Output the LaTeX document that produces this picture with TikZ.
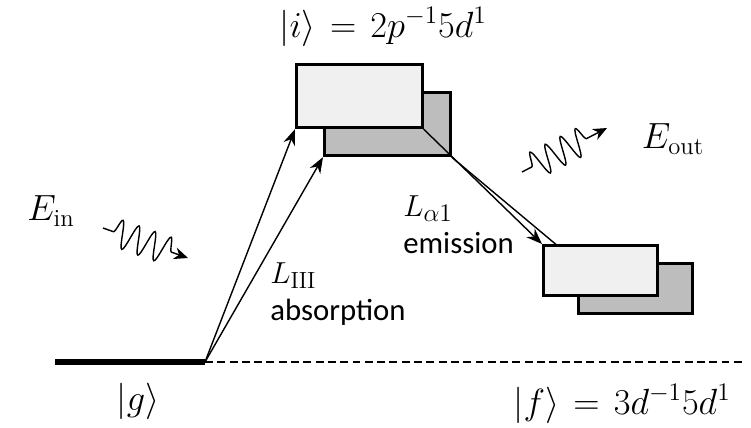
\documentclass[tikz,border=0pt]{standalone}
\usepackage{fontspec}
\setsansfont{Carlito}
\usetikzlibrary{positioning, arrows.meta, decorations.pathmorphing}
\pgfdeclarelayer{behind}
\pgfdeclarelayer{infront}
\pgfsetlayers{behind,main,infront}
\tikzset{
  level/.style={draw, line width=1.5pt, inner sep=0pt, anchor=north west},
  upper/.style={level, minimum width=2.52cm, minimum height=1.27cm},
  lower/.style={level, minimum width=2.28cm, minimum height=1.0cm},
  front/.style={fill=black!6},
  back/.style={fill=black!26},
  arr/.style={-{Stealth[length=3.2mm, width=2.4mm]}, line width=0.8pt},
  photon/.style={-{Stealth[length=2.8mm, width=2.4mm]}, line width=0.8pt, decorate,
    decoration={snake, amplitude=0.28cm, segment length=0.34cm, pre length=0.22cm, post length=0.32cm}},
  mlbl/.style={font=\fontsize{20}{24}\selectfont, inner sep=1pt},
  txt/.style={align=left, font=\sffamily\fontsize{17.5}{21}\selectfont, inner sep=0pt, anchor=north west}
}
\newcommand{\state}[1]{$\thickmuskip=7mu\relax #1$}
\newcommand{\transname}[1]{{\normalfont\fontsize{19}{21}\selectfont$#1$}}
\begin{document}
\begin{tikzpicture}[x=0.02cm, y=-0.02cm]
\useasboundingbox (0,0) rectangle (751,427);
% energy levels
\begin{pgfonlayer}{behind}
\node[upper, back] (iback) at (323,91) {};
\node[lower, back] (fback) at (577,262) {};
\end{pgfonlayer}
\begin{pgfonlayer}{infront}
\node[upper, front] (ifront) at (295,63) {};
\node[lower, front] (ffront) at (542,244) {};
\end{pgfonlayer}
\coordinate (gleft) at (55,362);
\coordinate (g) at (205,362);
\coordinate (gright) at (742,362);
\draw[line width=3.3pt] (gleft) -- (g);
\draw[line width=0.7pt, dash pattern=on 4.5pt off 2.5pt] (g) -- (gright);
% transitions
\draw[arr] (g) -- (ifront.south west);
\draw[arr] (g) -- (iback.south west);
\draw[arr] (ifront.south east) -- (ffront.north west);
\draw[arr] (iback.south east) -- (fback.north west);
% photons
\coordinate (inA) at (103,228);
\coordinate (inB) at (188,258);
\coordinate (outA) at (522,172);
\coordinate (outB) at (607,128);
\draw[photon] (inA) -- (inB);
\draw[photon] (outA) -- (outB);
% labels
\node[mlbl] (ein) at (51,211) {$E_{\mathrm{in}}$};
\node[mlbl] (eout) at (673,139) {$E_{\mathrm{out}}$};
\node[mlbl] (ilbl) at (383,27) {\state{|i\rangle = 2p^{-1}5d^{1}}};
\node[mlbl] (glbl) at (138,401) {$|g\rangle$};
\node[mlbl] (flbl) at (622,404) {\state{|f\rangle = 3d^{-1}5d^{1}}};
\node[txt] (abs) at (270,262) {\transname{L_{\mathrm{III}}}\\absorption};
\node[txt] (emi) at (403,195) {\transname{L_{\alpha 1}}\\emission};
\end{tikzpicture}
\end{document}
